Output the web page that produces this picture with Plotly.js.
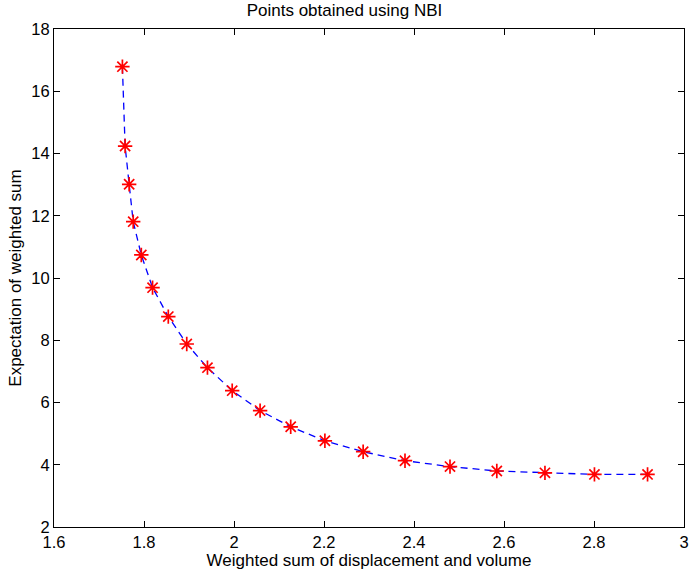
<!DOCTYPE html>
<html>
<head>
<meta charset="utf-8">
<script src="https://cdn.plot.ly/plotly-3.0.1.min.js"></script>
<style>
  html, body { margin: 0; padding: 0; background: #fff; }
  #chart { width: 689px; height: 575px; }
</style>
</head>
<body>
<div id="chart"></div>
<script>
// Data
const xValues = [1.752, 1.758, 1.767, 1.776, 1.794, 1.819, 1.854, 1.895, 1.941, 1.996,
                 2.058, 2.126, 2.202, 2.287, 2.380, 2.480, 2.584, 2.691, 2.801, 2.919];
const yValues = [16.79, 14.24, 13.01, 11.81, 10.74, 9.69, 8.76, 7.88, 7.12, 6.38,
                 5.74, 5.22, 4.77, 4.42, 4.13, 3.94, 3.80, 3.74, 3.69, 3.69];
const xTicks = [1.6, 1.8, 2, 2.2, 2.4, 2.6, 2.8, 3];
const yTicks = [2, 4, 6, 8, 10, 12, 14, 16, 18];
const titleText = "Points obtained using NBI";
const xTitle = "Weighted sum of displacement and volume";
const yTitle = "Expectation of weighted sum";

const font = "Liberation Sans, Arial, Helvetica, sans-serif";

const traces = [
  {
    x: xValues, y: yValues, type: "scatter", mode: "lines",
    line: { color: "rgb(0,0,255)", width: 1.3, dash: "7px,5px" },
    hoverinfo: "skip", showlegend: false
  },
  {
    x: xValues, y: yValues, type: "scatter", mode: "markers",
    marker: { symbol: "asterisk-open", size: 12, color: "rgb(255,0,0)",
              line: { color: "rgb(255,0,0)", width: 1.7 } },
    showlegend: false
  }
];

const axisCommon = {
  showgrid: false, zeroline: false,
  showline: true, linecolor: "#000", linewidth: 1, mirror: "ticks",
  ticks: "inside", ticklen: 6, tickwidth: 1, tickcolor: "#000",
  tickfont: { family: font, size: 16.5, color: "#000" },
  fixedrange: true
};

const layout = {
  width: 689, height: 575,
  margin: { l: 54, r: 5, t: 29, b: 48, pad: 0 },
  paper_bgcolor: "#fff", plot_bgcolor: "#fff",
  font: { family: font, size: 16, color: "#000" },
  title: { text: titleText, font: { family: font, size: 17, color: "#000" },
           x: 0.5, xref: "container", xanchor: "center", y: 0.993, yref: "container", yanchor: "top" },
  xaxis: Object.assign({}, axisCommon, {
    range: [1.6, 3], tickvals: xTicks, ticktext: xTicks.map(String),
    title: { text: xTitle, font: { family: font, size: 17, color: "#000" }, standoff: 2 }
  }),
  yaxis: Object.assign({}, axisCommon, {
    range: [2, 18], tickvals: yTicks, ticktext: yTicks.map(String),
    title: { text: yTitle, font: { family: font, size: 17, color: "#000" }, standoff: 5 }
  }),
  showlegend: false
};

Plotly.newPlot("chart", traces, layout, { displayModeBar: false, staticPlot: true });
</script>
</body>
</html>
